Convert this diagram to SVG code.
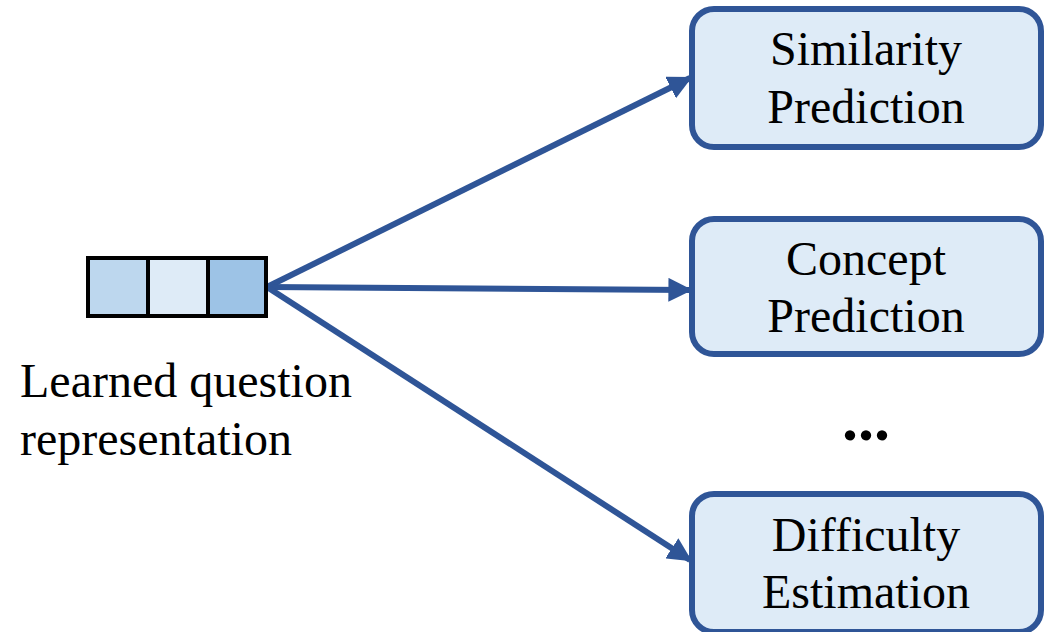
<svg xmlns="http://www.w3.org/2000/svg" width="1051" height="632" viewBox="0 0 1051 632">
  <style>
    .box { fill: #DEEBF7; stroke: #2F5597; stroke-width: 6; }
    .cell { stroke: #000; stroke-width: 4; }
    .edge { stroke: #2F5597; stroke-width: 6; fill: none; marker-end: url(#arrow); }
    .lbl { font-family: "Liberation Serif", "Times New Roman", serif; font-size: 48px; fill: #000; }
    .dots { font-family: "Liberation Serif", "Times New Roman", serif; font-size: 64px; font-weight: bold; fill: #000; }
  </style>
  <defs>
    <marker id="arrow" viewBox="0 0 10 10" refX="9" refY="5" markerWidth="4" markerHeight="4" orient="auto" markerUnits="strokeWidth">
      <path d="M0,0 L10,5 L0,10 z" fill="#2F5597"/>
    </marker>
  </defs>

  <g id="connectors">
    <line class="edge" x1="267" y1="287" x2="690" y2="78"/>
    <line class="edge" x1="267" y1="287" x2="690" y2="290"/>
    <line class="edge" x1="267" y1="287" x2="690" y2="560"/>
  </g>

  <g id="question-vector">
    <rect class="cell" x="88" y="258" width="60" height="58" fill="#BDD7EE"/>
    <rect class="cell" x="148" y="258" width="60" height="58" fill="#DEEBF7"/>
    <rect class="cell" x="208" y="258" width="58" height="58" fill="#9DC3E6"/>
    <text class="lbl" x="20" y="397">Learned question</text>
    <text class="lbl" x="20" y="455">representation</text>
  </g>

  <g id="similarity">
    <rect class="box" x="692" y="9" width="349" height="138" rx="22"/>
    <text class="lbl" x="866" y="65" text-anchor="middle">Similarity</text>
    <text class="lbl" x="866" y="123" text-anchor="middle">Prediction</text>
  </g>

  <g id="concept">
    <rect class="box" x="692" y="219" width="349" height="135" rx="22"/>
    <text class="lbl" x="866" y="275" text-anchor="middle">Concept</text>
    <text class="lbl" x="866" y="332" text-anchor="middle">Prediction</text>
  </g>

  <g id="ellipsis">
    <text class="dots" x="866" y="440" text-anchor="middle">...</text>
  </g>

  <g id="difficulty">
    <rect class="box" x="692" y="494" width="349" height="138" rx="22"/>
    <text class="lbl" x="866" y="551" text-anchor="middle">Difficulty</text>
    <text class="lbl" x="866" y="608" text-anchor="middle">Estimation</text>
  </g>
</svg>
